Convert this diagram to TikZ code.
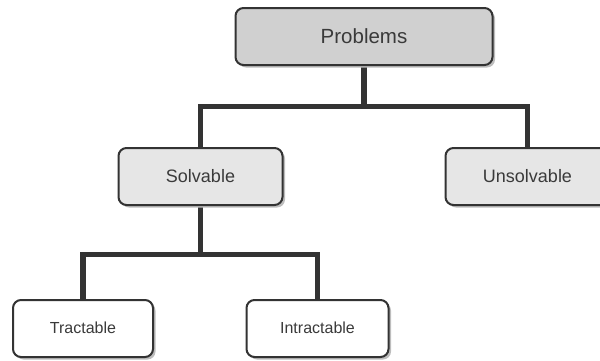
\documentclass[tikz,border=0pt]{standalone}
\usepackage{fontspec}
\setmainfont{Liberation Sans}
\usetikzlibrary{shadows}
\definecolor{ink}{HTML}{333333}
\definecolor{txt}{HTML}{3A3A3A}
\definecolor{topfill}{HTML}{D0D0D0}
\definecolor{midfill}{HTML}{E6E6E6}
\definecolor{shade}{HTML}{BDBDBD}
\tikzset{
  box/.style={draw=ink, line width=2pt, rounded corners=8pt, text=txt,
    minimum height=57pt, inner sep=0pt,
    drop shadow={shadow xshift=2.5pt, shadow yshift=-2.5pt, fill=shade, opacity=1}},
  rootbox/.style={box, fill=topfill, minimum width=257pt, font=\fontsize{20.5}{24}\selectfont},
  classbox/.style={box, fill=midfill, minimum width=164pt, font=\fontsize{18}{22}\selectfont},
  leafbox/.style={box, fill=white, minimum width=140pt, text height=0.95em, text depth=0pt,
    font=\fontsize{16}{19}\selectfont},
  conn/.style={draw=ink, line width=5.5pt}
}
\begin{document}
\begin{tikzpicture}[x=1pt, y=-1pt]
  \useasboundingbox (0,0) rectangle (600,360);
  % connectors sit behind the boxes
  \coordinate (j1) at (364,106.5);
  \coordinate (j2) at (201,254.5);
  \path (364,36.5) coordinate (pc) (200.5,176.5) coordinate (sc) (527.5,176.5) coordinate (uc)
        (83,328.5) coordinate (tc) (317.5,328.5) coordinate (ic);
  \draw[conn] (pc) -- (pc |- j1);
  \draw[conn] (sc) |- (j1) -| (uc);
  \draw[conn] (sc) -- (sc |- j2);
  \draw[conn] (tc) |- (j2) -| (ic);
  % boxes
  \node[rootbox]  (prob)   at (pc) {Problems};
  \node[classbox] (solv)   at (sc) {Solvable};
  \node[classbox] (unsolv) at (uc) {Unsolvable};
  \node[leafbox]  (tract)  at (tc) {Tractable};
  \node[leafbox, minimum width=142pt] (intract) at (ic) {Intractable};
\end{tikzpicture}
\end{document}
